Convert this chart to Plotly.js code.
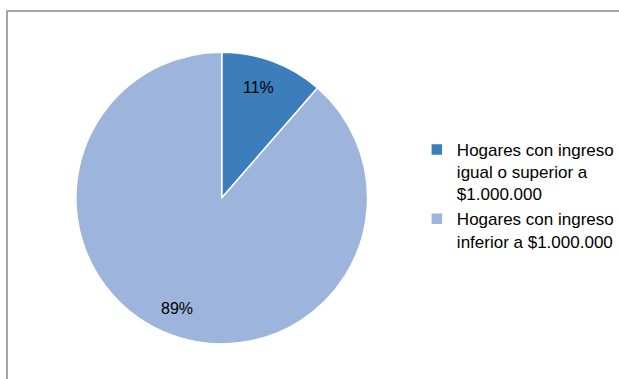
<!DOCTYPE html>
<html>
<head>
<meta charset="utf-8">
<script src="https://cdn.plot.ly/plotly-3.0.1.min.js"></script>
<style>
html,body{margin:0;padding:0;background:#fff;}
#wrap{position:relative;width:619px;height:379px;overflow:hidden;}
#chart{position:absolute;left:0;top:0;width:619px;height:379px;}
#frame{position:absolute;left:6px;top:10px;width:700px;height:400px;border-left:2px solid #a6a6a6;border-top:2px solid #a6a6a6;pointer-events:none;}
</style>
</head>
<body>
<div id="wrap"><div id="chart"></div><div id="frame"></div></div>
<script>
const categories = ["Hogares con ingreso<br>igual o superior a<br>$1.000.000", "Hogares con ingreso<br>inferior a $1.000.000"];
const values = [11.4, 88.6];
const colors = ["#3b7ebb", "#9db5dc"];

const W = 619, H = 379;
const CX = 221, CY = 198, R = 145;         // intended pie centre / radius (px)
const DOM = {x: [77, 373], y: [50, 346]};   // pie domain (px)
const LABEL_R = 0.815;

// percentage labels placed along each slice's mid-angle
const total = values.reduce((a, b) => a + b, 0);
let cum = 0;
const annotations = values.map(v => {
  const mid = (cum + v / 2) / total * 2 * Math.PI;
  cum += v;
  const px = CX + R * LABEL_R * Math.sin(mid);
  const py = CY - R * LABEL_R * Math.cos(mid);
  return {
    xref: 'paper', yref: 'paper', x: px / W, y: (H - py) / H,
    xanchor: 'center', yanchor: 'middle', showarrow: false,
    text: Math.round(v / total * 100) + '%',
    font: {family: 'Liberation Sans, Arial, sans-serif', size: 16, color: '#000'}
  };
});

const trace = {
  type: 'pie',
  labels: categories,
  values: values,
  sort: false,
  direction: 'clockwise',
  rotation: 0,
  marker: {colors: colors, line: {color: '#ffffff', width: 1.5}},
  textinfo: 'none',
  hoverinfo: 'none',
  domain: {x: [DOM.x[0] / W, DOM.x[1] / W], y: [(H - DOM.y[1]) / H, (H - DOM.y[0]) / H]}
};
const layout = {
  width: W, height: H,
  margin: {l: 0, r: 0, t: 0, b: 0},
  paper_bgcolor: '#fff',
  showlegend: true,
  annotations: annotations,
  legend: {
    x: 423 / W, y: (H - 132) / H, xanchor: 'left', yanchor: 'top',
    font: {family: 'Liberation Sans, Arial, sans-serif', size: 17, color: '#000'},
    valign: 'top', itemwidth: 30, tracegroupgap: 0,
    bgcolor: 'rgba(0,0,0,0)'
  },
  font: {family: 'Liberation Sans, Arial, sans-serif'}
};
Plotly.newPlot('chart', [trace], layout, {displayModeBar: false, staticPlot: true});
</script>
</body>
</html>
